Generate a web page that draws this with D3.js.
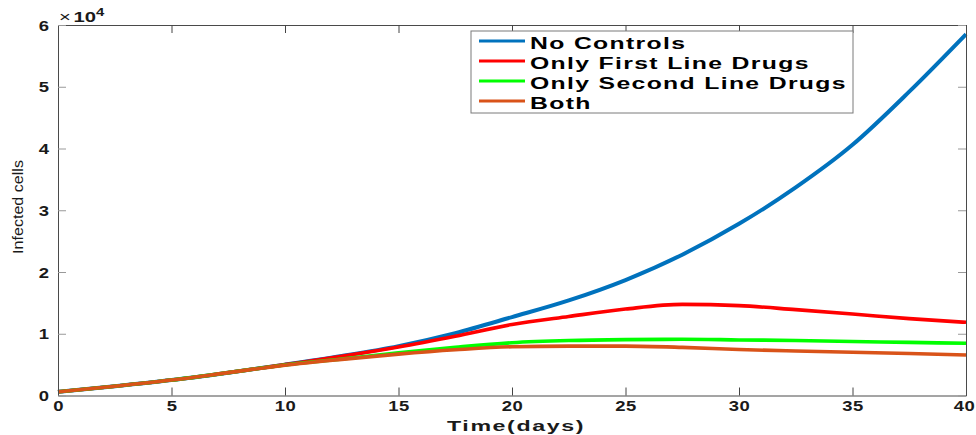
<!DOCTYPE html>
<html>
<head>
<meta charset="utf-8">
<script src="https://cdn.jsdelivr.net/npm/d3@7"></script>
<style>
  html, body { margin: 0; padding: 0; background: #fff; }
  svg { display: block; }
</style>
</head>
<body>
<svg id="chart" width="976" height="435"></svg>
<script>
// Time grid (days) and infected cell counts (in units of 10^4)
const days = [0, 2.5, 5, 7.5, 10, 12.5, 15, 17.5, 20, 22.5, 25, 27.5, 30, 32.5, 35, 37.5, 40];
const noControls      = [0.06, 0.15, 0.25, 0.37, 0.50, 0.64, 0.80, 1.01, 1.27, 1.54, 1.87, 2.28, 2.78, 3.37, 4.06, 4.92, 5.85];
const firstLineOnly   = [0.06, 0.15, 0.25, 0.37, 0.50, 0.635, 0.785, 0.96, 1.15, 1.28, 1.40, 1.475, 1.455, 1.39, 1.32, 1.245, 1.185];
const secondLineOnly  = [0.06, 0.15, 0.25, 0.37, 0.495, 0.59, 0.69, 0.78, 0.855, 0.89, 0.905, 0.91, 0.90, 0.89, 0.875, 0.86, 0.845];
const bothDrugs       = [0.06, 0.15, 0.25, 0.37, 0.49, 0.585, 0.67, 0.74, 0.79, 0.80, 0.80, 0.78, 0.745, 0.72, 0.70, 0.68, 0.655];

const seriesNames  = ["No Controls", "Only First Line Drugs", "Only Second Line Drugs", "Both"];
const seriesColors = ["#0072BD", "#FF0000", "#00FF00", "#D95319"];
const seriesValues = [noControls, firstLineOnly, secondLineOnly, bothDrugs];

const xTicks = [0, 5, 10, 15, 20, 25, 30, 35, 40];
const yTicks = [0, 1, 2, 3, 4, 5, 6];

const svg = d3.select("#chart");
const plotLeft = 58, plotRight = 966, plotTop = 25, plotBottom = 395.5;

const x = d3.scaleLinear().domain([0, 40]).range([plotLeft, plotRight]);
const y = d3.scaleLinear().domain([0, 6]).range([plotBottom, plotTop]);

const tickFont = "'Liberation Sans', Arial, sans-serif";
const sx = 1.32;

// Series lines
const line = d3.line()
  .x((d, i) => x(days[i]))
  .y(d => y(d))
  .curve(d3.curveMonotoneX);

seriesValues.forEach((vals, k) => {
  svg.append("path")
    .datum(vals)
    .attr("fill", "none")
    .attr("stroke", seriesColors[k])
    .attr("stroke-width", k === 0 ? 4 : 3.6)
    .attr("stroke-linejoin", "round")
    .attr("d", line);
});

// Axes (box style with inward ticks)
function styleAxis(g, col) {
  g.select(".domain").attr("stroke", "#4a4a4a").attr("stroke-width", 1);
  g.selectAll(".tick line").attr("stroke", col).attr("stroke-width", 1);
}

const gBottom = svg.append("g")
  .attr("transform", `translate(0,${plotBottom})`)
  .call(d3.axisBottom(x).tickValues(xTicks).tickSizeInner(-8).tickSizeOuter(0).tickFormat(d3.format("d")));
styleAxis(gBottom, "#444");
gBottom.selectAll(".tick text")
  .attr("y", 16).attr("dy", 0)
  .attr("x", d => d === 40 ? -2 / sx : 0)
  .attr("transform", `scale(${sx},1)`)
  .style("font-family", tickFont).style("font-weight", "bold").style("font-size", "14px")
  .style("letter-spacing", "0.3px")
  .attr("fill", "#1a1a1a");

const gTop = svg.append("g")
  .attr("transform", `translate(0,${plotTop})`)
  .call(d3.axisTop(x).tickValues(xTicks).tickSizeInner(-8).tickSizeOuter(0).tickFormat(""));
styleAxis(gTop, "#444");

const gLeft = svg.append("g")
  .attr("transform", `translate(${plotLeft},0)`)
  .call(d3.axisLeft(y).tickValues(yTicks).tickSizeInner(-8).tickSizeOuter(0).tickFormat(d3.format("d")));
styleAxis(gLeft, "#999");
gLeft.selectAll(".tick text")
  .attr("x", -9 / sx).attr("dy", "0.36em")
  .attr("transform", `scale(${sx},1)`)
  .style("font-family", tickFont).style("font-weight", "bold").style("font-size", "14px")
  .attr("fill", "#1a1a1a");

const gRight = svg.append("g")
  .attr("transform", `translate(${plotRight},0)`)
  .call(d3.axisRight(y).tickValues(yTicks).tickSizeInner(-8).tickSizeOuter(0).tickFormat(""));
styleAxis(gRight, "#999");

// Exponent marker
const expo = svg.append("text")
  .attr("transform", `translate(59,21.5) scale(1.35,1)`)
  .style("font-family", tickFont).style("font-size", "15px").attr("fill", "#1a1a1a");
expo.append("tspan").text("\u00d7");
expo.append("tspan").attr("dx", 2).style("font-weight", "bold").text("10");
expo.append("tspan").attr("dy", -6).style("font-weight", "bold").style("font-size", "11px").text("4");

// Axis titles
svg.append("text")
  .attr("transform", `translate(${(plotLeft + plotRight) / 2 + 4},431) scale(1.6,1)`)
  .attr("text-anchor", "middle")
  .style("font-family", tickFont).style("font-weight", "bold").style("font-size", "14.5px")
  .style("letter-spacing", "1px")
  .attr("fill", "#1a1a1a")
  .text("Time(days)");

svg.append("text")
  .attr("transform", `translate(23,207) rotate(-90) scale(1.15,1)`)
  .attr("text-anchor", "middle")
  .style("font-family", tickFont).style("font-size", "14px")
  .attr("fill", "#1a1a1a")
  .text("Infected cells");

// Legend
const legend = svg.append("g").attr("transform", "translate(471,31)");
legend.append("rect")
  .attr("x", 0).attr("y", 0).attr("width", 382).attr("height", 82)
  .attr("fill", "#fff").attr("stroke", "#7a7a7a").attr("stroke-width", 1);

seriesNames.forEach((name, k) => {
  const row = legend.append("g").attr("transform", `translate(0,${10 + k * 20})`);
  row.append("line")
    .attr("x1", 8).attr("x2", 54).attr("y1", 0).attr("y2", 0)
    .attr("stroke", seriesColors[k]).attr("stroke-width", 3);
  row.append("text")
    .attr("transform", `translate(59,8) scale(1.5,1)`)
    .style("font-family", tickFont).style("font-weight", "bold").style("font-size", "16.5px")
    .style("letter-spacing", "0.9px")
    .attr("fill", "#000")
    .text(name);
});
</script>
</body>
</html>
